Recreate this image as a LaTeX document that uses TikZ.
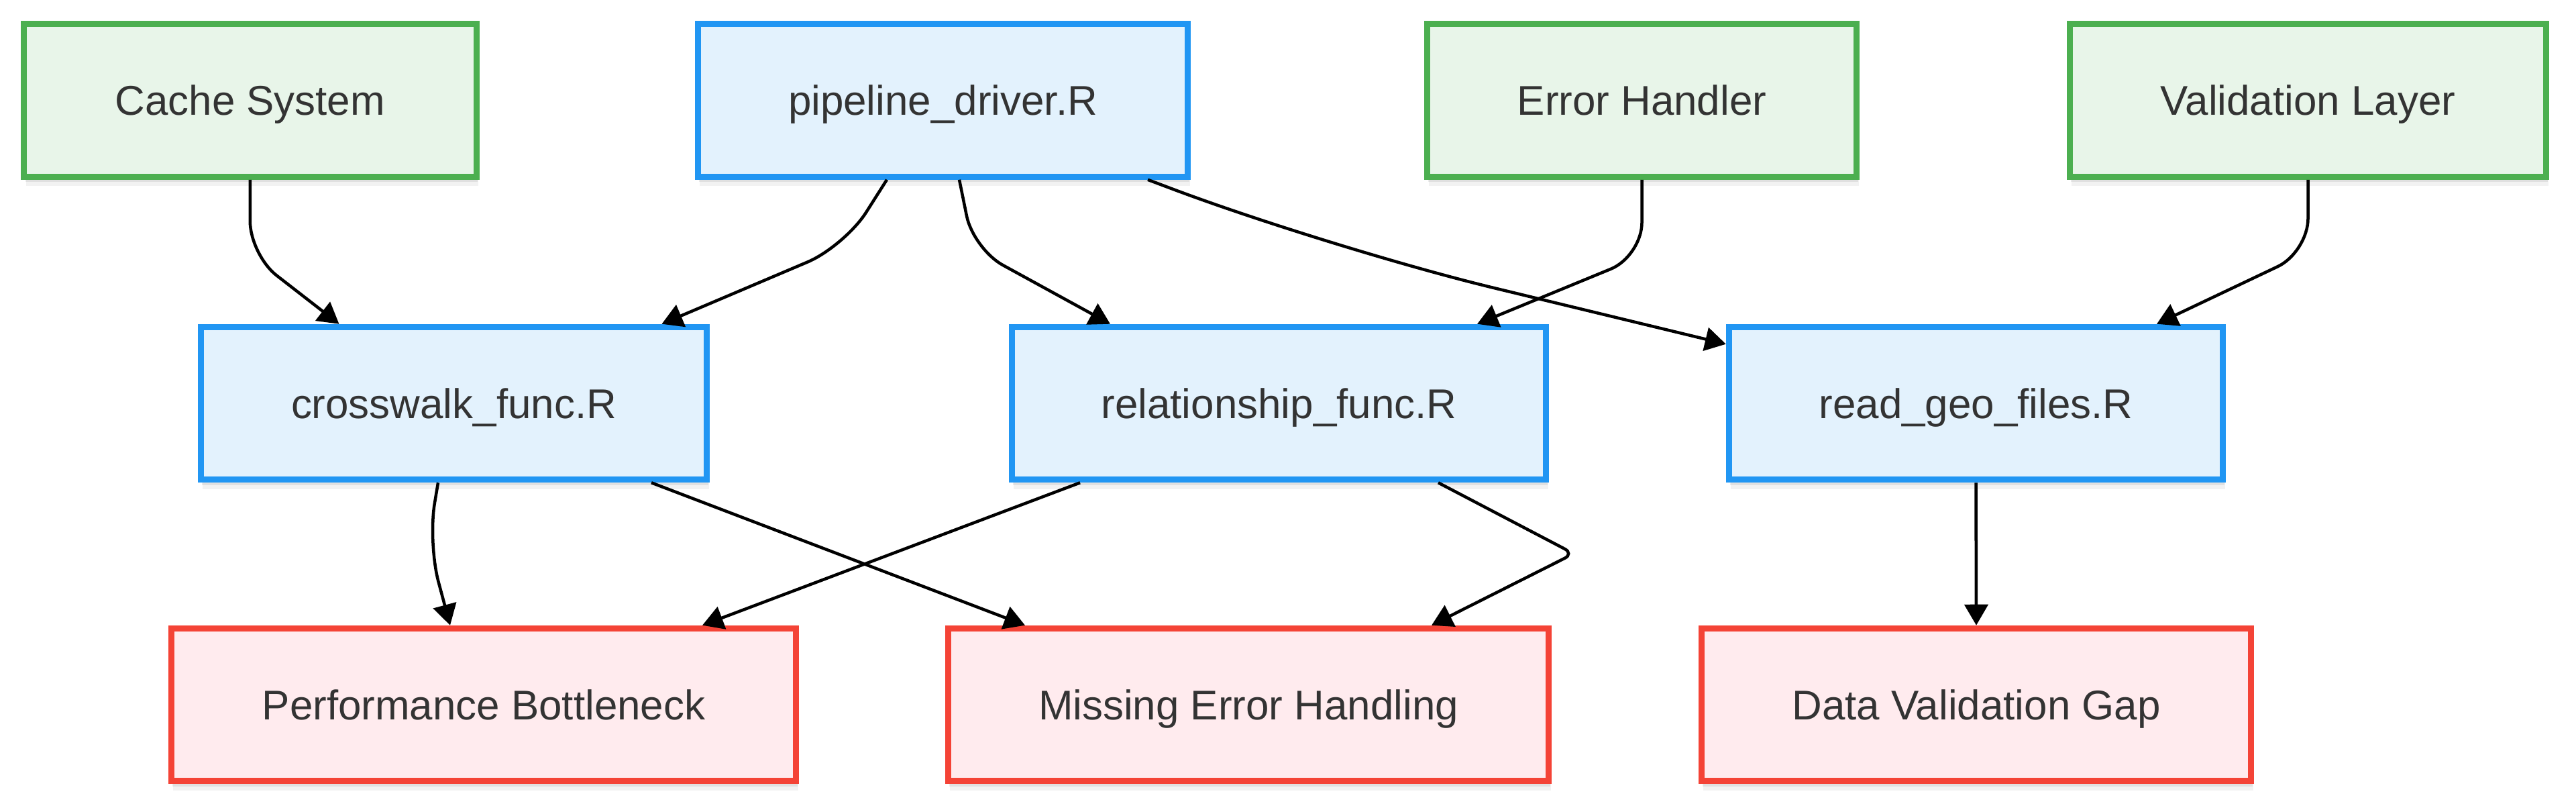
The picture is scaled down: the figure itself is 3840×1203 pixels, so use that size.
\documentclass[tikz,border=0pt]{standalone}
\usepackage{fontspec}
\setmainfont{Liberation Sans}
\usetikzlibrary{arrows.meta,calc,shadows}
\definecolor{gfill}{HTML}{E8F5E9}
\definecolor{gline}{HTML}{4CAF50}
\definecolor{bfill}{HTML}{E3F2FD}
\definecolor{bline}{HTML}{2196F3}
\definecolor{rfill}{HTML}{FFEBEE}
\definecolor{rline}{HTML}{F44336}
\definecolor{txt}{HTML}{333333}
\begin{document}
\begin{tikzpicture}[x=0.01cm,y=-0.01cm,
  box/.style={rectangle, line width=0.09cm, minimum height=2.274cm, inner sep=0pt,
    text height=0.44cm, text depth=0cm, text=txt,
    font=\fontsize{17.6pt}{21pt}\selectfont,
    drop shadow={shadow xshift=0.02cm, shadow yshift=-0.08cm, opacity=0.07, fill=black},
    drop shadow={shadow xshift=0.03cm, shadow yshift=-0.14cm, opacity=0.05, fill=black}},
  gbox/.style={box, draw=gline, fill=gfill},
  bbox/.style={box, draw=bline, fill=bfill},
  rbox/.style={box, draw=rline, fill=rfill},
  conn/.style={draw=black, line width=0.045cm, -{Triangle[length=0.31cm,width=0.35cm]}}]
\useasboundingbox (0,0) rectangle (3840,1203);
\fill[white] (0,0) rectangle (3840,1203);

% top row
\node[gbox, minimum width=6.74cm] (cache) at (372.8,149.5) {Cache System};
\node[bbox, minimum width=7.30cm] (pd) at (1405.5,149.5) {pipeline\_driver.R};
\node[gbox, minimum width=6.40cm] (eh) at (2447.5,149.5) {Error Handler};
\node[gbox, minimum width=7.10cm] (vl) at (3440.5,149.5) {Validation Layer};

% middle row
\node[bbox, minimum width=7.54cm] (cw) at (676.5,601) {crosswalk\_func.R};
\node[bbox, minimum width=7.96cm] (rel) at (1906.5,601) {relationship\_func.R};
\node[bbox, minimum width=7.36cm] (rg) at (2945.5,601) {read\_geo\_files.R};

% bottom row
\node[rbox, minimum width=9.31cm] (pb) at (721,1050) {Performance Bottleneck};
\node[rbox, minimum width=8.95cm] (meh) at (1861,1050) {Missing Error Handling};
\node[rbox, minimum width=8.19cm] (dvg) at (2946,1050) {Data Validation Gap};

% connectors
\draw[conn, rounded corners=0.5cm] (cache.south) -- ($(cache.south)+(0,112)$) -- ($(cw.north)+(-171,0)$);
\draw[conn, rounded corners=0.6cm] ($(pd.south)+(-83.5,0)$) -- (1259,367) -- ($(cw.north)+(310,0)$);
\draw[conn, rounded corners=0.5cm] ($(pd.south)+(24.5,0)$) -- (1451,371) -- ($(rel.north)+(-251.5,0)$);
\draw[conn, rounded corners=2.5cm] ($(pd.south)+(305.5,0)$) -- (1983,370) -- ($(rg.north west)+(0,30)$);
\draw[conn, rounded corners=0.5cm] (eh.south) -- ($(eh.south)+(0,114)$) -- ($(rel.north)+(295.5,0)$);
\draw[conn, rounded corners=0.5cm] (vl.south) -- ($(vl.south)+(0,108)$) -- ($(rg.north)+(269.5,0)$);
\draw[conn, rounded corners=0.6cm] ($(cw.south)+(-23.5,0)$) -- (638,809) -- ($(pb.north)+(-50,0)$);
\draw[conn] ($(cw.south)+(294.5,0)$) -- ($(meh.north)+(-333,0)$);
\draw[conn] ($(rel.south)+(-296.5,0)$) -- ($(pb.north)+(326,0)$);
\draw[conn, rounded corners=0.15cm] ($(rel.south)+(237.5,0)$) -- (2346,825) -- ($(meh.north)+(273,0)$);
\draw[conn] (rg.south) -- (dvg.north);
\end{tikzpicture}
\end{document}
